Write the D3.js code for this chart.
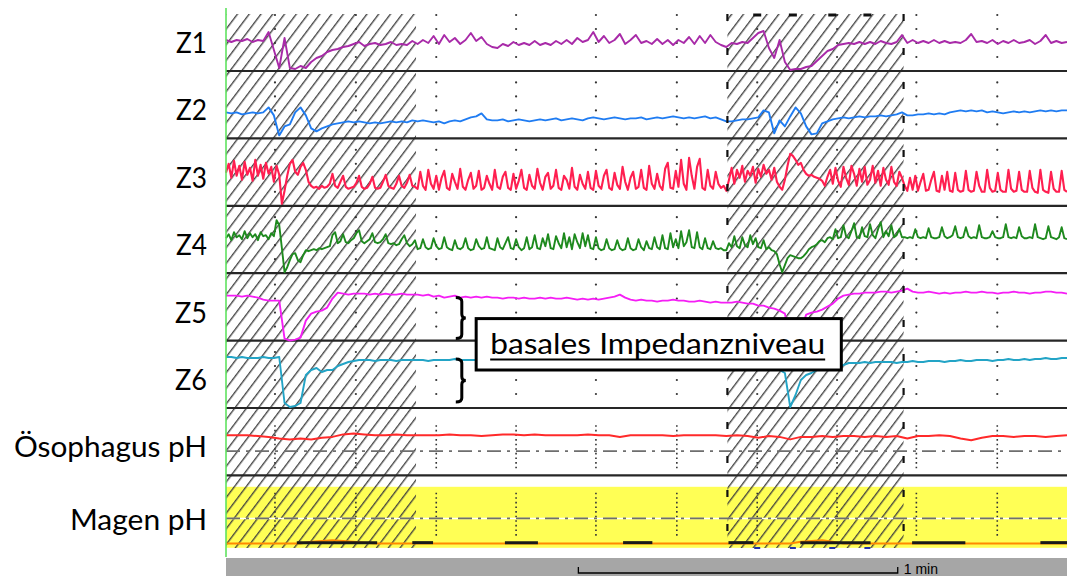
<!DOCTYPE html>
<html lang="de">
<head>
<meta charset="UTF-8">
<title>Impedanz-pH-Metrie</title>
<script src="https://d3js.org/d3.v7.min.js"></script>
<style>
  html, body { margin: 0; padding: 0; background: #fff; }
  svg { display: block; }
  .label { font-family: Lato, "Open Sans", sans-serif; font-size: 28px; fill: #000; }
  .trace { fill: none; stroke-linejoin: round; }
</style>
</head>
<body>
<svg id="chart" width="1067" height="576"></svg>
<script>
// sampling steps (seconds)
const STEP_Z = 1;
const STEP_Z_FAST = 0.5;
const STEP_PH = 2;
const DURATION = 158; // seconds on screen

const channelNames = ["Z1", "Z2", "Z3", "Z4", "Z5", "Z6", "Ösophagus pH", "Magen pH"];

// impedance in kOhm, 1 s steps
const z1 = [3.1,2.9,3.1,3.0,3.2,2.9,3.1,3.0,3.9,2.1, 0.3,3.3,0.3,0.2,0.5,0.3,0.9,1.3,1.5,1.9,
  2.1,2.2,2.4,2.5,2.7,2.9,2.5,2.7,2.8,2.6, 2.7,2.9,2.6,2.7,2.6,3.0,2.7,3.1,2.8,3.5,
  2.7,3.6,2.9,3.3,2.7,3.1,3.8,3.0,3.4,2.7, 2.4,2.3,2.7,2.5,2.9,2.6,2.8,2.6,3.0,2.6,
  2.8,2.6,3.0,2.7,3.1,2.7,3.3,2.9,3.1,3.9, 2.9,3.5,2.8,3.1,3.7,2.7,3.1,3.6,2.8,3.0,
  2.7,3.2,2.7,3.1,2.6,3.1,2.8,3.4,2.7,3.5, 2.8,3.6,2.9,2.6,2.4,2.8,2.7,2.9,2.8,3.3,
  3.8,4.0,2.3,1.3,3.1,0.9,0.1,0.2,0.2,0.4, 0.5,1.0,1.5,2.0,2.2,2.6,2.7,2.8,2.7,2.9,
  2.7,2.9,2.7,3.0,2.8,2.7,2.9,3.6,2.8,3.1, 2.8,3.0,2.8,3.1,2.8,3.0,2.8,2.9,2.8,3.1,
  3.7,2.9,3.0,2.8,3.1,2.7,3.0,2.8,3.1,2.8, 2.9,3.1,2.7,3.0,3.6,2.8,3.0,2.8,2.9];

const z2 = [2.6,2.5,2.6,2.4,2.5,2.6,2.5,2.6,3.1,2.3, 0.3,1.2,1.4,2.6,3.1,2.3,1.0,0.7,1.0,1.2,
  1.4,1.5,1.6,1.7,1.6,1.7,1.6,1.5,1.6,1.5, 1.6,1.7,1.6,1.7,1.6,1.8,1.7,1.8,1.7,1.6,
  1.7,1.5,1.7,1.8,1.7,1.9,2.1,2.2,2.5,1.9, 1.8,
  1.8,1.9,1.7,1.8,1.9,1.8,1.7,1.8,1.9,1.8, 1.9,2.0,1.8,1.9,2.0,1.9,1.8,2.0,2.1,2.0,
  1.9,2.0,2.1,2.0,1.9,2.0,2.0,2.1,1.9,2.0, 2.1,2.0,2.1,2.2,2.1,2.0,2.1,2.0,2.1,2.2,
  2.0,2.1, 1.9,1.7,1.7,1.8,1.9,1.9,2.0,
  2.1,2.8,2.6,0.5,1.8,1.2,2.2,3.1,2.5,1.2, 0.4,0.5,1.5,1.7,1.9,2.0,2.1,2.0,2.1,2.2,
  2.1,2.2,2.2,2.3,2.2,2.3,2.4,2.6,2.3,
  2.3,2.4,2.4,2.5,2.4,2.5,2.4,2.6,2.7,2.8, 2.7,2.8,2.7,2.8,2.6,2.7,2.6,2.5,2.6,2.7,
  2.6,2.7,2.6,2.7,2.8,2.7,2.8,2.7,2.8,2.8];

// 0.5 s steps
const z3 = [3.3,4.2,2.8,4.5,3.0,4.0,2.6,4.4,3.1,3.8,2.5,4.6,3.0,4.1,2.7,4.3,3.2,3.9,2.4,4.0,3.1,
  0.2,1.5,3.0,4.2,4.6,3.4,3.1,3.9,4.3,3.6,2.4,2.0,
  1.8,1.9,1.7,2.0,1.8,1.9,2.2,3.2,2.0,1.8, 2.4,3.0,1.9,1.7,1.8,1.9,2.3,3.0,1.9,1.7,
  1.8,2.2,2.9,1.8,1.7,1.8,2.4,3.1,2.0,1.8, 1.7,2.2,3.0,2.0,1.8,2.3,3.1,2.0,1.9,
  1.7,3.4,2.0,1.6,3.6,2.2,1.7,3.0,1.6,2.8, 3.5,1.8,1.6,3.2,2.4,1.7,3.7,1.9,1.6,2.6,
  3.3,1.7,2.0,3.5,1.6,1.8,3.0,2.2,1.6,3.6, 1.9,1.7,2.9,3.4,1.8,1.6,3.2,1.7,2.5,3.6,
  1.8,1.6,3.1,2.0,1.7,3.7,2.3,1.6,2.9,3.3, 1.7,2.0,3.6,1.8,1.6,3.0,2.6,1.7,3.8,1.9,
  1.6,3.1,2.2,1.7,3.4,1.8,1.6,3.5,2.0,1.7, 3.0,3.6,1.8,1.6,3.3,2.1,1.7,3.9,2.4,1.6,
  2.8,3.4,1.7,1.9,3.6,1.8,1.6,4.0,2.2,1.7, 3.2,2.0,1.6,3.7,4.3,1.8,1.7,3.5,1.9,4.6,
  2.2,1.6,4.8,3.0,1.7,3.9,4.7,1.8,1.6,3.6, 2.0,1.7,3.4,2.2,1.8,2.0,
  1.5,2.6,3.8,2.2,3.6,2.8,4.0,2.4,3.5,3.0,3.9,2.3,3.7,2.9,4.1,3.2,3.6,2.6,3.8,2.4,1.9,1.6,
  2.6,4.0,5.2,5.0,4.6,4.1,4.3,3.6,3.2,3.0,3.1,2.9,2.8,2.7,2.5,2.0,2.9,3.6,
  2.2,3.8,2.5,1.9,3.9,2.8,2.1,4.0,3.2,2.0,3.7,2.4,3.9,2.1,2.6,4.0,2.3,3.5,2.0,3.8,2.6,2.1,3.9,2.4,2.0,3.4,2.8,
  2.0,1.5,2.8,1.6,3.0,1.5,2.4,3.2,1.5,1.6, 2.6,3.4,1.5,1.4,3.0,1.6,3.4,1.5,1.4,3.3,
  1.6,1.4,1.5,3.5,1.6,1.4,1.5,3.4,2.0,1.4, 1.4,3.6,1.8,1.4,1.5,3.3,1.6,1.4,1.4,3.6,
  1.7,1.4,1.5,3.4,1.6,1.4,1.4,3.5,1.8,1.4, 1.3,3.6,1.6,1.4,1.3,3.4,1.7,1.4,1.4,3.5,
  1.6,1.4];

const z4 = [3.5,3.9,3.3,4.1,3.6,3.8,3.4,4.2,3.5,4.0,3.6,3.9,3.3,4.1,3.7,3.8,3.4,4.0,3.7,
  5.3,4.8,2.5,0.1,0.6,1.3,1.9,2.0,1.3,1.1, 1.8,2.3,2.2,2.3,2.4,2.3,2.5,2.4,2.5,2.6,
  2.7,3.8,4.1,3.0,3.2,3.9,3.1,3.0,3.3,3.5, 4.0,4.3,3.2,3.0,3.2,3.4,4.0,3.1,3.0,3.1,
  3.4,3.9,3.0,2.9,3.0,2.8,2.9,3.4,3.8,3.0, 2.7,2.9,3.3,
  2.4,2.5,3.4,2.6,2.4,2.5,3.5,2.7,2.4,2.5, 3.6,2.6,2.4,2.3,3.3,2.5,2.4,2.6,3.5,2.5,
  2.3,2.4,3.4,2.7,2.4,2.5,3.6,2.5,2.4,2.3, 3.5,2.6,2.4,3.0,3.6,2.5,2.4,3.4,2.6,2.3,
  2.5,3.6,2.4,2.6,3.8,2.5,2.4,3.5,2.7,3.9, 2.5,2.4,3.7,3.0,2.5,4.0,2.6,3.6,2.4,3.9,
  3.1,2.5,4.0,2.7,3.8,2.5,2.4,3.6,2.5,2.3, 2.4,3.4,2.5,2.3,2.4,3.3,2.5,2.3,2.4,3.5,
  2.5,2.3,2.4,3.4,2.6,2.3,3.2,2.5,2.4,3.6, 2.6,2.4,3.8,2.5,2.4,4.0,2.6,3.4,2.5,4.2,
  2.7,3.1,4.3,2.6,2.5,4.1,2.6,2.4,3.5,2.5, 2.4,3.2,2.5,2.4,2.5,2.3,
  2.3,3.0,2.6,3.7,2.7,2.5,3.6,2.8,2.6,3.8,2.9,3.5,2.6,2.5,3.3,2.4,2.6,2.3,2.2,1.9,0.9,0.1,
  0.8,1.5,1.8,1.7,1.6,1.5,1.5,1.7,2.0,2.4,2.6,2.7,2.9,3.2,3.3,3.1,3.5,3.6,
  3.4,4.4,3.5,3.6,4.8,3.7,3.5,4.2,5.0,3.6,3.5,4.6,3.7,3.6,4.9,3.8,3.5,4.4,5.1,3.6,4.2,3.7,4.8,3.6,3.8,4.4,3.6,
  3.6,3.5,3.6,3.5,4.4,3.6,3.5,3.6,3.5,4.5, 3.6,3.5,3.5,3.6,4.6,3.7,3.5,3.6,3.8,4.7,
  3.6,3.5,3.6,4.6,3.7,3.5,3.6,3.5,4.8,3.6, 3.5,3.5,3.6,4.2,3.6,3.5,3.5,3.6,4.9,3.6,
  3.5,3.6,3.5,4.6,3.7,3.5,3.5,3.6,3.5,4.9, 3.6,3.5,3.4,3.5,4.7,3.6,3.5,3.4,3.6,4.6,
  3.5,3.4];

const z5 = [4.5,4.5,4.5,4.4,4.5,4.4,4.3,4.1,4.0,4.0, 4.0,0.2,0.0,0.1,0.3,2.0,2.7,2.9,3.0,3.3,
  4.2,4.8,4.7,4.6,4.7,4.7,4.7,4.6,4.7,4.6, 4.7,4.6,4.6,4.7,4.6,4.6,4.6,4.5,4.6,4.4,
  4.5,4.3,4.4,4.5,4.3,4.4,4.3,4.4,4.3,4.4, 4.3,4.3,4.2,4.3,4.3,4.2,4.3,4.2,4.2,4.3,
  4.2,4.3,4.2,4.2,4.3,4.2,4.1,4.2,4.1,4.2, 4.1,4.2,4.3,4.4,4.6,4.3,4.1,4.0,4.1,4.0,
  4.0,3.9,4.0,4.0,4.1,4.0,4.0,3.9,3.9,4.0, 3.9,3.8,3.9,3.8,3.8,3.8,3.9,3.8,3.7,3.7,
  3.5,3.5,3.3,3.2,3.0,2.7,0.2,0.0,1.0,2.6, 2.8,2.9,3.1,3.4,3.7,4.2,4.5,4.6,4.7,4.7,
  4.8,4.8,4.8,4.9,4.9,4.8,4.9,5.0,5.2,4.9, 4.8,4.8,4.9,4.8,4.7,4.8,4.7,4.8,4.8,4.9,
  4.8,4.8,4.9,4.8,4.8,4.7,4.8,4.8,4.9,4.8, 4.8,4.7,4.8,4.8,4.9,4.9,4.8,4.8,4.7];

const z6 = [5.1,5.1,5.0,5.1,5.0,5.0,5.0,5.1,5.0,5.0,5.1,
  0.5,0.1,0.2,0.5,3.3,3.8,4.0,3.6,3.8,3.8,4.2,4.4,4.6,4.7,4.8,
  4.8,4.8,4.7,4.8,4.8,4.8,4.7,4.8,4.8,4.8,4.8,4.8,4.7,4.8,4.8,4.8,4.8,4.9,4.8,4.8,4.8,4.8,
  4.8,4.7,4.8,4.8,4.7,4.8,4.8,4.7,4.8,4.7, 4.8,4.8,4.7,4.7,4.8,4.7,4.8,4.7,4.7,4.8,
  4.7,4.7,4.8,4.7,4.7,4.6,4.7,4.7,4.6,4.7, 4.7,4.6,4.7,4.6,4.6,4.7,4.6,4.6,4.5,4.6,
  4.6,4.5,4.6,4.5,4.5,4.6,4.5,4.4,4.5,4.4, 4.4,4.3,4.3,4.2,4.1,4.0,3.8,
  3.5,0.1,1.3,2.8,3.3,3.5,3.8,3.9,4.1,4.2,4.2,4.3,
  4.5,4.5,4.5,4.6,4.5,4.6,4.6,4.6,4.6,4.5, 4.6,4.6,4.7,4.6,4.6,4.7,4.7,4.7,4.6,4.7,
  4.7,4.8,4.7,4.7,4.8,4.8,4.8,4.7,4.8,4.8, 4.9,4.8,4.8,4.9,4.8,4.9,4.9,5.0,4.9,4.9,
  5.0,5.0];

// pH, 2 s steps
const phOesophagus = [5.9,5.9,5.9,5.8,5.7,5.5,5.4,5.5,5.4,5.6,5.7,6.0,6.1,6.0,5.9,5.9,6.0,5.9,
  5.9,5.9,5.9,6.0,5.9,5.9,5.8,5.9,6.0,6.0, 5.9,6.0,5.9,5.9,5.9,5.9,6.0,5.9,5.9,5.7,
  5.9,5.9,5.9,5.9,5.8,5.9,5.9,5.9,5.9,5.8, 5.9,5.8,5.6,5.8,5.7,5.4,5.7,5.7,5.8,5.7,
  5.8,5.8,5.7,5.8,5.7,5.8,5.5,5.8,5.8,5.9, 5.8,5.5,5.3,5.6,5.8,5.8,5.7,5.8,5.8,5.7,
  5.8,5.9];

const phMagen = [1.0,1.0,1.0,1.0,1.0,1.0,1.0,1.0,
  1.2,1.3,1.4,1.3,1.2,1.1,1.0,
  1.0,1.0,1.0,1.0,1.0,1.0,1.0,1.0,1.0,1.0, 1.0,1.0,1.0,1.0,1.0,1.0,1.0,1.0,1.0,1.0,
  1.0,1.0,1.0,1.0,1.0,1.0,1.0,1.0,1.0,1.0, 1.0,1.0,1.0,1.0,1.0,1.0,1.0,1.0,1.0,
  1.2,1.3,1.4,1.2,1.0,
  1.0,1.0,1.0,1.0,1.0,1.0,1.0,1.0,1.0,1.0, 1.0,1.0,1.0,1.0,1.0,1.0,1.0,1.0,1.0,1.0,1.0];

// time axis (seconds)
const gridTimes = [9.2, 24.4, 39.5, 54.5, 69.5, 84.7, 99.8, 114.8, 129.7, 144.9];
const swallowPeriods = [[0, 35.7], [94.2, 127.3]];
const magenEvents = [[13.3, 28.4], [35.0, 38.9], [52.4, 58.6], [74.6, 80.1], [94.4, 99.1],
  [107.9, 121.1], [128.9, 138.9], [153.0, 158]];
const eventMarks = [99.8, 106.5, 113.9, 120.5];
const scaleBar = [66.2, 126.2]; // 1 min

// layout
const W = 1067, H = 576;
const LEFT = 226, TOP = 14, HATCH_BOTTOM = 548;
const FIRST_BASE = 71, ROW = 67.4;
const base = i => FIRST_BASE + i * ROW;

const svg = d3.select("#chart");
const x = d3.scaleLinear().domain([0, DURATION]).range([LEFT, W]);

const zScale = i => d3.scaleLinear().domain([0, 6.7]).range([base(i), base(i) - 67]);
const phScale = i => d3.scaleLinear().domain([0, 9]).range([base(i) + 9, base(i) + 9 - 75]);

const channels = [
  { values: z1, step: STEP_Z, y: zScale(0), color: "#a82aa8", w: 1.9 },
  { values: z2, step: STEP_Z, y: zScale(1), color: "#1f7cf2", w: 1.9 },
  { values: z3, step: STEP_Z_FAST, y: zScale(2), color: "#ff1f50", w: 2.1 },
  { values: z4, step: STEP_Z_FAST, y: zScale(3), color: "#1e8a1e", w: 1.9 },
  { values: z5, step: STEP_Z, y: zScale(4), color: "#f51ef5", w: 1.9 },
  { values: z6, step: STEP_Z, y: zScale(5), color: "#23a4c6", w: 1.9 },
  { values: phOesophagus, step: STEP_PH, y: phScale(6), color: "#ff2a2a", w: 2 },
  { values: phMagen, step: STEP_PH, y: phScale(7), color: "#ff8a00", w: 2 }
];

// yellow band of the gastric channel
svg.append("rect")
  .attr("x", LEFT).attr("y", base(7) - 56)
  .attr("width", W - LEFT).attr("height", 61)
  .attr("fill", "#ffff55");

// hatching for the swallow periods
const defs = svg.append("defs");
defs.append("pattern")
  .attr("id", "hatch")
  .attr("patternUnits", "userSpaceOnUse")
  .attr("width", 9.4).attr("height", 9.4)
  .attr("patternTransform", "rotate(37)")
  .append("line")
  .attr("x1", 0.7).attr("y1", 0).attr("x2", 0.7).attr("y2", 9.4)
  .attr("stroke", "#3c3c3c").attr("stroke-width", 1.3);

svg.selectAll(".hatch")
  .data(swallowPeriods)
  .join("rect")
  .attr("class", "hatch")
  .attr("x", d => x(d[0])).attr("y", TOP)
  .attr("width", d => x(d[1]) - x(d[0]))
  .attr("height", HATCH_BOTTOM - TOP)
  .attr("fill", "url(#hatch)");

// grid dots in the impedance channels
const gridLevels = [1.4, 2.8, 4.2, 5.6];
for (let i = 0; i < 6; i++) {
  const y = zScale(i);
  gridTimes.forEach(t => {
    gridLevels.forEach(v => {
      svg.append("circle")
        .attr("cx", x(t)).attr("cy", y(v)).attr("r", 1.1)
        .attr("fill", "#333");
    });
  });
}

// dotted verticals + pH 4 reference lines in the pH channels
[6, 7].forEach(i => {
  const y = phScale(i);
  gridTimes.forEach(t => {
    svg.append("line")
      .attr("x1", x(t)).attr("x2", x(t))
      .attr("y1", y(7.1)).attr("y2", y(1.7))
      .attr("stroke", "#333").attr("stroke-width", 1.6)
      .attr("stroke-dasharray", "1.6,3");
  });
  if (i === 7) {
    svg.append("line")
      .attr("x1", LEFT).attr("x2", W).attr("y1", y(4)).attr("y2", y(4))
      .attr("stroke", "#fff").attr("stroke-width", 1.6);
  }
  svg.append("line")
    .attr("x1", LEFT).attr("x2", W).attr("y1", y(4)).attr("y2", y(4))
    .attr("stroke", "#6e6e6e").attr("stroke-width", 1.8)
    .attr("stroke-dasharray", "14,6,3,6");
});

// channel separators
for (let i = 0; i < 7; i++) {
  svg.append("line")
    .attr("x1", LEFT).attr("x2", W)
    .attr("y1", base(i)).attr("y2", base(i))
    .attr("stroke", "#262626").attr("stroke-width", 2.2);
}

// traces
channels.forEach(ch => {
  const line = d3.line()
    .x((d, k) => x(k * ch.step))
    .y(d => ch.y(d));
  svg.append("path")
    .datum(ch.values)
    .attr("class", "trace")
    .attr("d", line)
    .attr("stroke", ch.color)
    .attr("stroke-width", ch.w);
});

// event bars on gastric pH
const yMagen = phScale(7);
svg.selectAll(".event")
  .data(magenEvents)
  .join("line")
  .attr("class", "event")
  .attr("x1", d => x(d[0])).attr("x2", d => x(d[1]))
  .attr("y1", yMagen(1.1)).attr("y2", yMagen(1.1))
  .attr("stroke", "#1a1a1a").attr("stroke-width", 3);

// dashed edges of the second swallow period
swallowPeriods.slice(1).forEach(p => {
  p.forEach(t => {
    svg.append("line")
      .attr("x1", x(t)).attr("x2", x(t))
      .attr("y1", TOP).attr("y2", HATCH_BOTTOM)
      .attr("stroke", "#111").attr("stroke-width", 2.2)
      .attr("stroke-dasharray", "7,27");
  });
});

// small event marks at top and bottom
eventMarks.forEach(t => {
  svg.append("line")
    .attr("x1", x(t) - 4).attr("x2", x(t) + 4)
    .attr("y1", TOP + 1).attr("y2", TOP + 1)
    .attr("stroke", "#111").attr("stroke-width", 3);
  svg.append("line")
    .attr("x1", x(t) - 3).attr("x2", x(t) + 3)
    .attr("y1", HATCH_BOTTOM).attr("y2", HATCH_BOTTOM)
    .attr("stroke", "#2233aa").attr("stroke-width", 2);
});

// green start line
svg.append("line")
  .attr("x1", LEFT).attr("x2", LEFT).attr("y1", 8).attr("y2", 557)
  .attr("stroke", "#5fe35f").attr("stroke-width", 1.6);

// channel labels
const labelWidths = [31, 31, 31, 31, 32, 32, 193, 137];
channelNames.forEach((name, i) => {
  svg.append("text")
    .attr("class", "label")
    .attr("x", 207)
    .attr("y", i < 7 ? base(i) - 18 : base(i) - 13)
    .attr("text-anchor", "end")
    .attr("textLength", labelWidths[i])
    .attr("lengthAdjust", "spacingAndGlyphs")
    .text(name);
});

// annotation: basal impedance level
const y5 = zScale(4), y6 = zScale(5);
const bx0 = x(47), bx1 = x(115.6), by0 = y5(2.2), by1 = y6(3.8);
svg.append("rect")
  .attr("x", bx0).attr("y", by0)
  .attr("width", bx1 - bx0).attr("height", by1 - by0)
  .attr("fill", "#fff").attr("stroke", "#000").attr("stroke-width", 3);
svg.append("text")
  .attr("x", bx0 + 14).attr("y", by0 + 35)
  .attr("textLength", 335)
  .attr("lengthAdjust", "spacingAndGlyphs")
  .style("font-family", "Lato, 'Open Sans', sans-serif")
  .style("font-size", "28px")
  .text("basales Impedanzniveau");
svg.append("line")
  .attr("x1", bx0 + 14).attr("x2", bx0 + 349)
  .attr("y1", by0 + 41).attr("y2", by0 + 41)
  .attr("stroke", "#000").attr("stroke-width", 2);

// curly brackets
function bracket(t, yTop, yBot) {
  const xa = x(t) - 6, xb = x(t), xc = x(t) + 4, ym = (yTop + yBot) / 2;
  return `M${xa},${yTop} Q${xb},${yTop} ${xb},${yTop + 4} L${xb},${ym - 4} Q${xb},${ym} ${xc},${ym}` +
         ` Q${xb},${ym} ${xb},${ym + 4} L${xb},${yBot - 4} Q${xb},${yBot} ${xa},${yBot}`;
}
[[y5(4.3), y5(0.2)], [y6(4.9), y6(0.6)]].forEach(([a, b]) => {
  svg.append("path")
    .attr("d", bracket(44.3, a, b))
    .attr("fill", "none").attr("stroke", "#000").attr("stroke-width", 3);
});

// bottom time bar with 1 min scale
svg.append("rect")
  .attr("x", LEFT).attr("y", 558)
  .attr("width", W - LEFT).attr("height", H - 558)
  .attr("fill", "#a6a6a6");
svg.append("path")
  .attr("d", `M${x(scaleBar[0])},567 V573 H${x(scaleBar[1])} V567`)
  .attr("fill", "none").attr("stroke", "#000").attr("stroke-width", 1.3);
svg.append("text")
  .attr("x", x(scaleBar[1]) + 6).attr("y", 574)
  .style("font-family", "'Liberation Sans', Arial, sans-serif")
  .style("font-size", "14px")
  .text("1 min");
</script>
</body>
</html>
